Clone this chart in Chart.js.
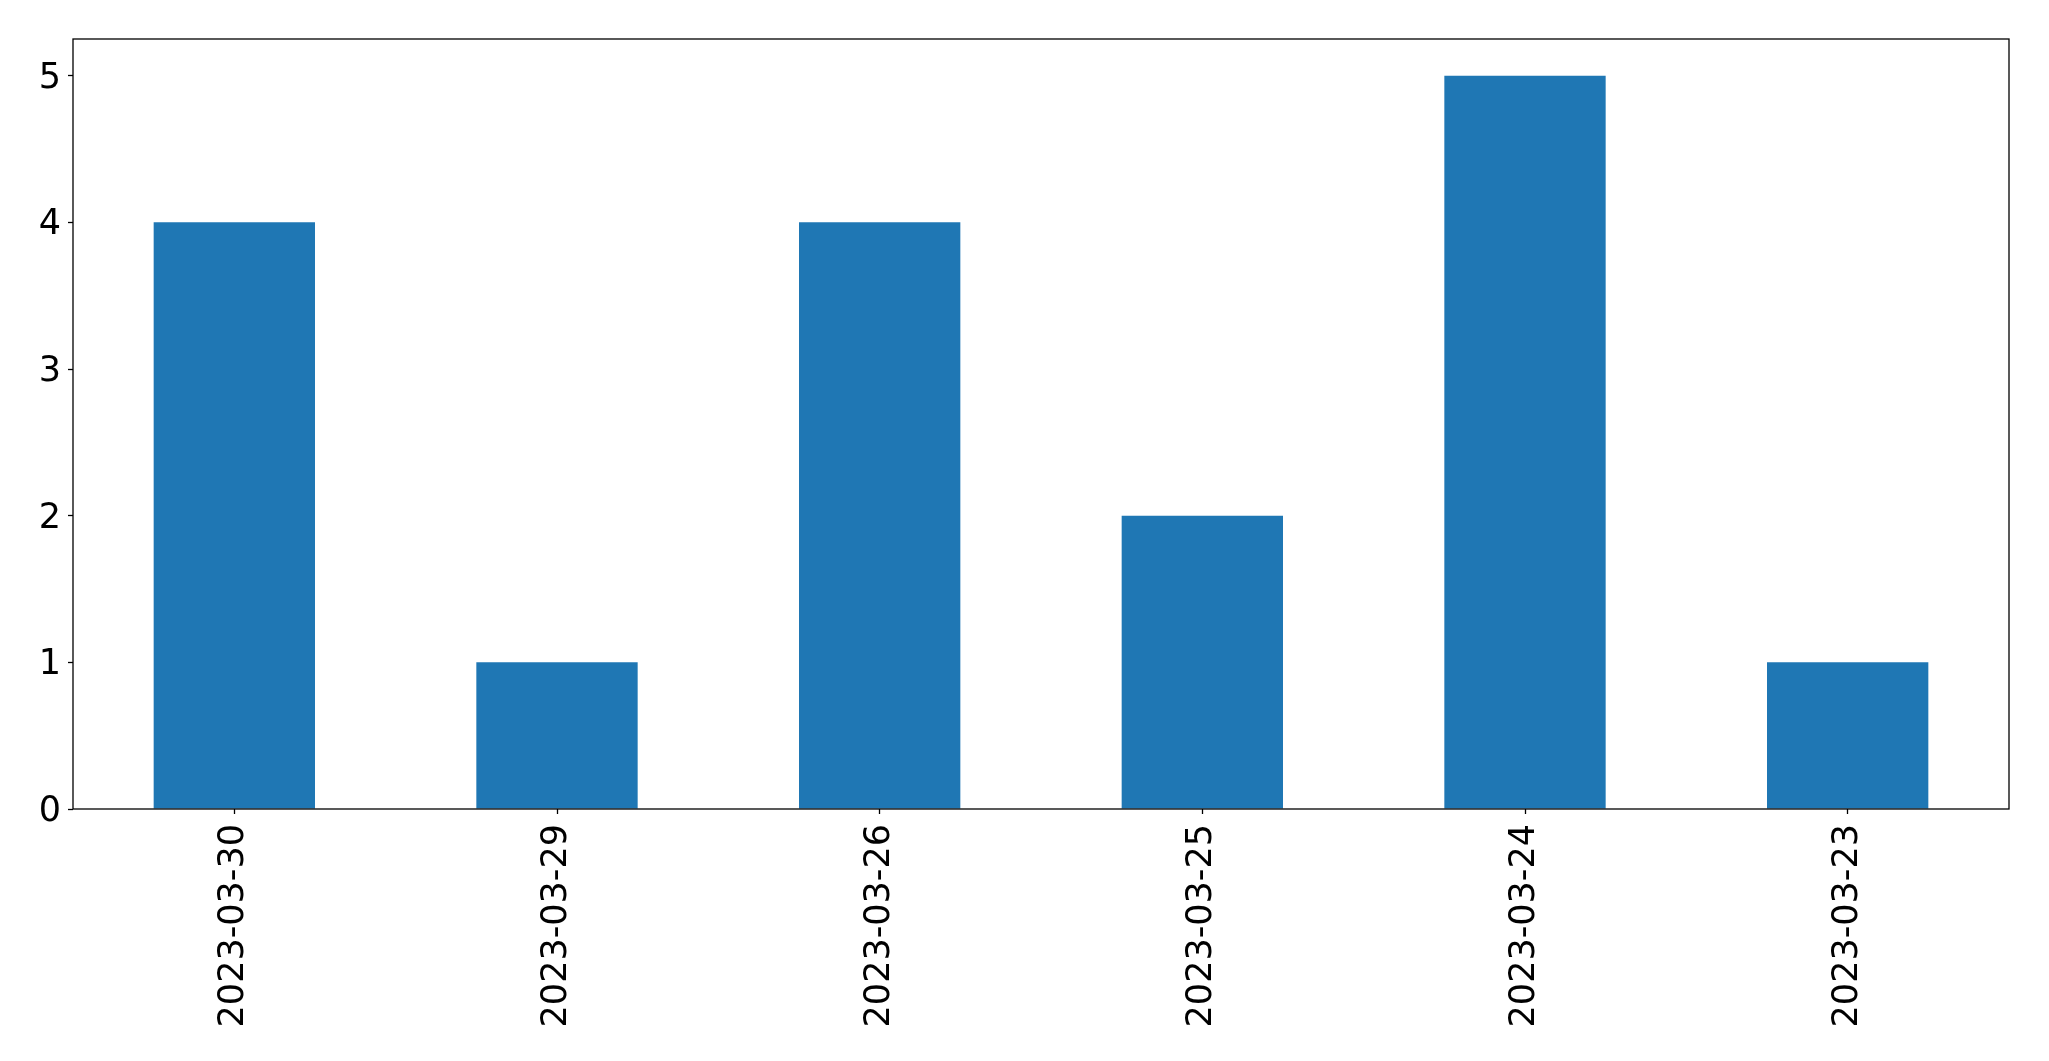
<!DOCTYPE html>
<html>
<head>
<meta charset="utf-8">
<script src="https://cdn.jsdelivr.net/npm/chart.js@4.4.0/dist/chart.umd.min.js"></script>
<style>
  html, body { margin: 0; padding: 0; background: #fff; }
  canvas { display: block; }
</style>
</head>
<body>
<canvas id="countChart" width="2049" height="1061"></canvas>
<script>
const dates = ['2023-03-30', '2023-03-29', '2023-03-26', '2023-03-25', '2023-03-24', '2023-03-23'];
const counts = [4, 1, 4, 2, 5, 1];
const yTicks = [0, 1, 2, 3, 4, 5];

// box around the plot area, like matplotlib's spines
const frame = {
    id: 'frame',
    afterDatasetsDraw(chart) {
        const a = chart.chartArea;
        const ctx = chart.ctx;
        ctx.save();
        ctx.strokeStyle = '#000';
        ctx.lineWidth = 1.3;
        ctx.strokeRect(a.left, a.top, a.right - a.left, a.bottom - a.top);
        ctx.restore();
    }
};

const ctx = document.getElementById('countChart').getContext('2d');
new Chart(ctx, {
    type: 'bar',
    data: {
        labels: dates,
        datasets: [{
            data: counts,
            backgroundColor: '#1f77b4',
            borderWidth: 0,
            barPercentage: 0.5,
            categoryPercentage: 1.0
        }]
    },
    options: {
        responsive: false,
        animation: false,
        layout: {
            padding: { top: 39, right: 40, left: 0, bottom: 0 }
        },
        plugins: {
            legend: { display: false },
            tooltip: { enabled: false }
        },
        scales: {
            x: {
                grid: {
                    offset: false,
                    drawOnChartArea: false,
                    drawTicks: true,
                    tickLength: 5,
                    tickColor: '#000',
                    tickWidth: 1.3
                },
                border: { display: false },
                ticks: {
                    color: '#000',
                    font: { family: 'DejaVu Sans', size: 35 },
                    maxRotation: 90,
                    minRotation: 90,
                    padding: 10,
                    autoSkip: false
                },
                afterFit(scale) { scale.height = 252; }
            },
            y: {
                min: 0,
                max: 5.25,
                grid: {
                    drawOnChartArea: false,
                    drawTicks: true,
                    tickLength: 5,
                    tickColor: '#000',
                    tickWidth: 1.3
                },
                border: { display: false },
                afterBuildTicks(scale) {
                    scale.ticks = yTicks.map(v => ({ value: v }));
                },
                ticks: {
                    color: '#000',
                    font: { family: 'DejaVu Sans', size: 35 },
                    padding: 7,
                    labelOffset: 3
                },
                afterFit(scale) { scale.width = 73; }
            }
        }
    },
    plugins: [frame]
});
</script>
</body>
</html>
